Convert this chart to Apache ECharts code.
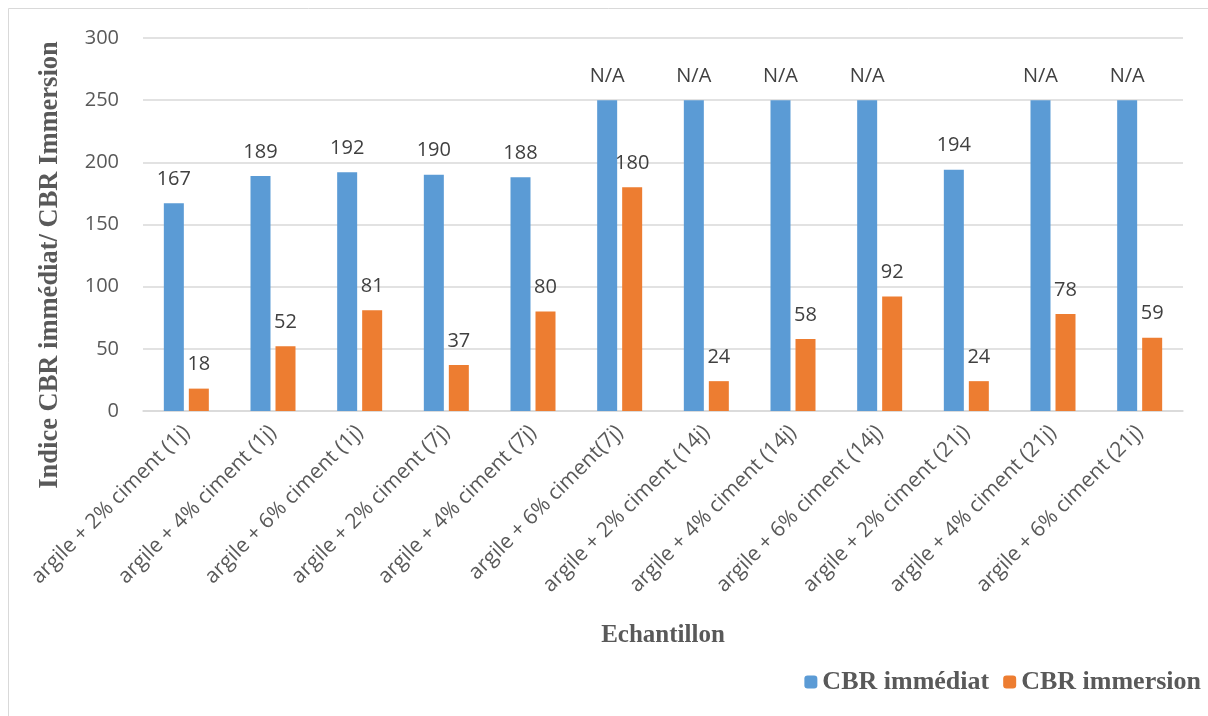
<!DOCTYPE html>
<html>
<head>
<meta charset="utf-8">
<script src="https://cdn.jsdelivr.net/npm/echarts@6/dist/echarts.min.js"></script>
<style>
html,body{margin:0;padding:0;background:#fff;}
#chart{width:1208px;height:716px;}
</style>
</head>
<body>
<div id="chart"></div>
<script>
const categories = [
  'argile + 2% ciment (1j)', 'argile + 4% ciment (1j)', 'argile + 6% ciment (1j)',
  'argile + 2% ciment (7j)', 'argile + 4% ciment (7j)', 'argile + 6% ciment(7j)',
  'argile + 2% ciment (14j)', 'argile + 4% ciment (14j)', 'argile + 6% ciment (14j)',
  'argile + 2% ciment (21j)', 'argile + 4% ciment (21j)', 'argile + 6% ciment (21j)'
];
const immediatValues = [167, 189, 192, 190, 188, 250, 250, 250, 250, 194, 250, 250];
const immediatLabels = ['167', '189', '192', '190', '188', 'N/A', 'N/A', 'N/A', 'N/A', '194', 'N/A', 'N/A'];
const immersionValues = [18, 52, 81, 37, 80, 180, 24, 58, 92, 24, 78, 59];
const yTicks = [0, 50, 100, 150, 200, 250, 300];

const chart = echarts.init(document.getElementById('chart'), null, {renderer: 'canvas'});
const labelFont = {fontFamily: 'Open Sans', fontSize: 20, color: '#404040'};
chart.setOption({
  animation: false,
  backgroundColor: '#fff',
  graphic: [{
    type: 'rect', shape: {x: 8.5, y: 8.5, width: 1210, height: 720},
    style: {fill: 'none', stroke: '#d9d9d9', lineWidth: 1}, silent: true
  }, {
    type: 'text', x: 50, y: 265, rotation: Math.PI / 2,
    style: {text: 'Indice CBR immédiat/ CBR Immersion', fontFamily: 'Liberation Serif',
      fontWeight: 'bold', fontSize: 26.5, fill: '#595959', align: 'center', verticalAlign: 'middle'},
    silent: true
  }],
  grid: {left: 143, right: 25, top: 38, bottom: 305, containLabel: false},
  legend: {
    right: 2, top: 664, itemWidth: 13, itemHeight: 13, itemGap: 14,
    textStyle: {fontFamily: 'Liberation Serif', fontWeight: 'bold', fontSize: 26, color: '#595959'},
    data: ['CBR immédiat', 'CBR immersion']
  },
  xAxis: {
    type: 'category', data: categories,
    name: 'Echantillon', nameLocation: 'middle', nameGap: 212,
    nameTextStyle: {fontFamily: 'Liberation Serif', fontWeight: 'bold', fontSize: 25, color: '#595959'},
    axisLine: {lineStyle: {color: '#d9d9d9', width: 1.5}},
    axisTick: {show: false},
    axisLabel: {interval: 0, rotate: 45, fontFamily: 'Open Sans', fontSize: 21, color: '#595959', margin: 18}
  },
  yAxis: {
    type: 'value', min: 0, max: 300, interval: 50,
    axisLine: {show: false}, axisTick: {show: false},
    axisLabel: {fontFamily: 'Open Sans', fontSize: 20, color: '#595959', margin: 24,
      formatter: v => yTicks.includes(v) ? String(v) : ''},
    splitLine: {lineStyle: {color: '#d9d9d9', width: 1.5}}
  },
  series: [
    {
      name: 'CBR immédiat', type: 'bar', data: immediatValues,
      itemStyle: {color: '#5b9bd5'}, barWidth: 20, barGap: '25%',
      label: {show: true, position: 'top', distance: 14, ...labelFont,
        formatter: p => immediatLabels[p.dataIndex]}
    },
    {
      name: 'CBR immersion', type: 'bar', data: immersionValues,
      itemStyle: {color: '#ed7d31'}, barWidth: 20,
      label: {show: true, position: 'top', distance: 14, ...labelFont}
    }
  ]
});
</script>
</body>
</html>
